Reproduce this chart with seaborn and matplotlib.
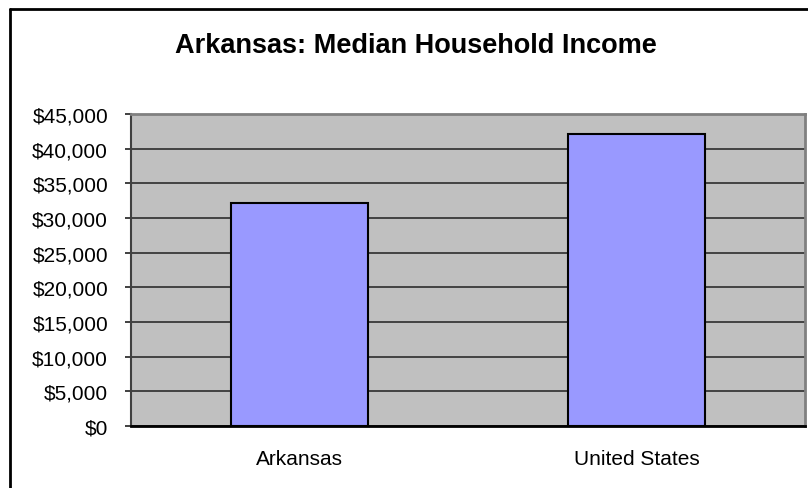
import matplotlib
matplotlib.use("Agg")
import matplotlib.pyplot as plt
from matplotlib.lines import Line2D
from matplotlib.ticker import FuncFormatter, MultipleLocator, FixedLocator
import seaborn as sns
import pandas as pd

# Median household income, Arkansas vs. the nation
regions = ["Arkansas", "United States"]
median_income = [32100, 42150]
title = "Arkansas: Median Household Income"

sns.set_style("white")
plt.rcParams["font.family"] = ["Liberation Sans", "DejaVu Sans"]
plt.rcParams["text.color"] = "black"
plt.rcParams["xtick.color"] = "black"
plt.rcParams["ytick.color"] = "black"
plt.rcParams["xtick.labelcolor"] = "black"
plt.rcParams["ytick.labelcolor"] = "black"

W, H = 808, 489
fig = plt.figure(figsize=(W / 100, H / 100), dpi=100)
ax = fig.add_axes([131 / W, (H - 427) / H, (805 - 131) / W, (427 - 115) / H])

df = pd.DataFrame({"region": regions, "income": median_income})
sns.barplot(data=df, x="region", y="income", ax=ax, color="#9999FF",
            saturation=1, width=0.405, edgecolor="black", linewidth=1.5,
            zorder=3)

ax.set_facecolor("#C0C0C0")
ax.set_xlim(-0.5, 1.5)
ax.set_ylim(0, 45000)
ax.yaxis.set_major_locator(MultipleLocator(5000))
ax.yaxis.set_major_formatter(FuncFormatter(lambda v, _: f"${v:,.0f}"))
ax.grid(axis="y", color="#202020", linewidth=1.1, zorder=1)
ax.set_axisbelow(True)

ax.set_xlabel("")
ax.set_ylabel("")

# Category labels without marks; boundary marks between categories
ax.tick_params(axis="x", which="major", length=0, pad=16.5, labelsize=15,
               labelcolor="black")
ax.xaxis.set_minor_locator(FixedLocator([-0.5, 0.5, 1.5]))
ax.tick_params(axis="x", which="minor", length=4.5, width=1.2,
               direction="out", color="#202020")
ax.tick_params(axis="y", which="major", length=4.5, width=1.2,
               direction="out", color="#202020", pad=12, labelsize=15,
               labelcolor="black", left=True)

for side in ("top", "right"):
    ax.spines[side].set_visible(True)
    ax.spines[side].set_color("#808080")
    ax.spines[side].set_linewidth(2)
ax.spines["left"].set_color("#404040")
ax.spines["left"].set_linewidth(1.5)
ax.spines["bottom"].set_color("black")
ax.spines["bottom"].set_linewidth(2)

fig.text(415.5 / W, 1 - 46 / H, title, ha="center", va="center",
         fontsize=19.5, fontweight="bold", color="black")

# Chart frame (left and top edges)
fig.add_artist(Line2D([9.5 / W, 9.5 / W], [0, 1 - 10 / H],
                      transform=fig.transFigure, color="black", linewidth=2))
fig.add_artist(Line2D([9.5 / W, 1], [1 - 10 / H, 1 - 10 / H],
                      transform=fig.transFigure, color="black", linewidth=2))

fig.savefig("out.png", dpi=100, facecolor="white")
